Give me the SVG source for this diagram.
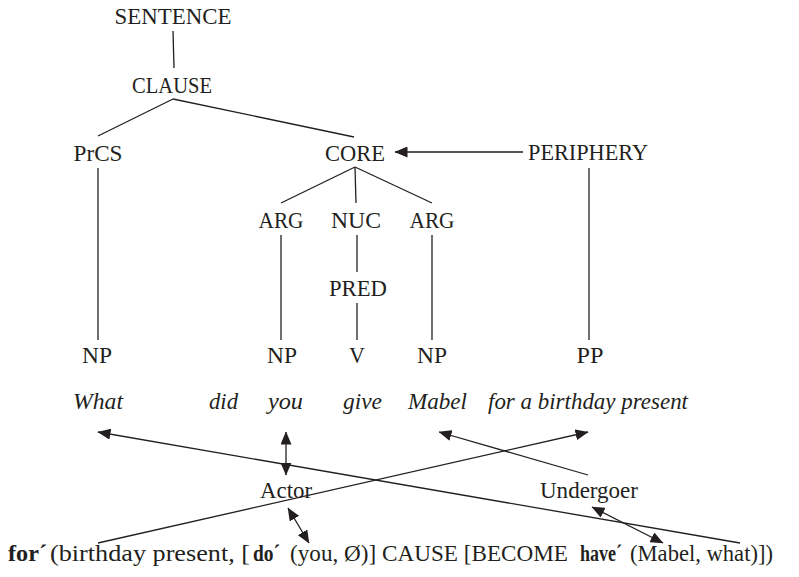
<svg xmlns="http://www.w3.org/2000/svg" width="799" height="577" viewBox="0 0 799 577">
<style>
text{font-family:"Liberation Serif","Times New Roman",serif;font-size:23.5px;fill:#231f20}
.c{text-anchor:middle}
.i{font-style:italic}
.b{font-weight:bold}
.ln line{stroke:#231f20;stroke-width:1.3;fill:none}
</style>
<defs>
<marker id="ah" markerUnits="userSpaceOnUse" viewBox="0 0 13 11" markerWidth="13" markerHeight="11" refX="12.5" refY="5.5" orient="auto-start-reverse">
<path d="M0,0 L13,5.5 L0,11 z" fill="#231f20"/>
</marker>
</defs>
<rect width="799" height="577" fill="#fff"/>
<g id="connectors" class="ln">
<line x1="173" y1="31" x2="174" y2="68"/>
<line x1="173" y1="99" x2="98" y2="136"/>
<line x1="173" y1="99" x2="354" y2="137"/>
<line x1="523" y1="152" x2="395" y2="152" marker-end="url(#ah)"/>
<line x1="98" y1="168" x2="98" y2="340"/>
<line x1="355" y1="167" x2="281" y2="203"/>
<line x1="355" y1="167" x2="356" y2="203"/>
<line x1="355" y1="167" x2="432" y2="203"/>
<line x1="281" y1="235" x2="281" y2="340"/>
<line x1="357" y1="235" x2="357" y2="272"/>
<line x1="357" y1="303" x2="357" y2="340"/>
<line x1="432" y1="235" x2="432" y2="340"/>
<line x1="589" y1="168" x2="589" y2="340"/>
<line x1="740" y1="543" x2="98" y2="432" marker-end="url(#ah)"/>
<line x1="98" y1="543" x2="588" y2="432" marker-end="url(#ah)"/>
<line x1="286" y1="432" x2="286" y2="475" marker-start="url(#ah)" marker-end="url(#ah)"/>
<line x1="288" y1="508" x2="309" y2="543" marker-start="url(#ah)" marker-end="url(#ah)"/>
<line x1="588" y1="475" x2="439" y2="432" marker-end="url(#ah)"/>
<line x1="592" y1="507" x2="663" y2="543" marker-start="url(#ah)" marker-end="url(#ah)"/>
</g>
<g id="sentence"><text class="c" x="173" y="24" textLength="117" lengthAdjust="spacingAndGlyphs">SENTENCE</text></g>
<g id="clause"><text class="c" x="172" y="93" textLength="80" lengthAdjust="spacingAndGlyphs">CLAUSE</text></g>
<g id="prcs"><text class="c" x="98" y="161" textLength="49" lengthAdjust="spacingAndGlyphs">PrCS</text></g>
<g id="core"><text class="c" x="355" y="161" textLength="60" lengthAdjust="spacingAndGlyphs">CORE</text></g>
<g id="periphery"><text class="c" x="588" y="160" textLength="120" lengthAdjust="spacingAndGlyphs">PERIPHERY</text></g>
<g id="arg1"><text class="c" x="281" y="228" textLength="45" lengthAdjust="spacingAndGlyphs">ARG</text></g>
<g id="nuc"><text class="c" x="356" y="228" textLength="50" lengthAdjust="spacingAndGlyphs">NUC</text></g>
<g id="arg2"><text class="c" x="432" y="228" textLength="45" lengthAdjust="spacingAndGlyphs">ARG</text></g>
<g id="pred"><text class="c" x="358" y="296" textLength="58" lengthAdjust="spacingAndGlyphs">PRED</text></g>
<g id="np1"><text class="c" x="97" y="363" textLength="30" lengthAdjust="spacingAndGlyphs">NP</text></g>
<g id="np2"><text class="c" x="282" y="363" textLength="30" lengthAdjust="spacingAndGlyphs">NP</text></g>
<g id="v"><text class="c" x="357" y="363" textLength="16" lengthAdjust="spacingAndGlyphs">V</text></g>
<g id="np3"><text class="c" x="432" y="363" textLength="30" lengthAdjust="spacingAndGlyphs">NP</text></g>
<g id="pp"><text class="c" x="590" y="363" textLength="27" lengthAdjust="spacingAndGlyphs">PP</text></g>
<g id="words">
<text class="i" x="73" y="409" textLength="50" lengthAdjust="spacingAndGlyphs">What</text>
<text class="i" x="209" y="409" textLength="29" lengthAdjust="spacingAndGlyphs">did</text>
<text class="i" x="268" y="409" textLength="35" lengthAdjust="spacingAndGlyphs">you</text>
<text class="i" x="343" y="409" textLength="39" lengthAdjust="spacingAndGlyphs">give</text>
<text class="i" x="408" y="409" textLength="59" lengthAdjust="spacingAndGlyphs">Mabel</text>
<text class="i" x="488" y="409" textLength="200" lengthAdjust="spacingAndGlyphs">for a birthday present</text>
</g>
<g id="actor"><text class="c" x="286" y="498" textLength="52" lengthAdjust="spacingAndGlyphs">Actor</text></g>
<g id="undergoer"><text class="c" x="589" y="498" textLength="98" lengthAdjust="spacingAndGlyphs">Undergoer</text></g>
<g id="logical-structure">
<text x="8" y="561" class="b" textLength="39" lengthAdjust="spacingAndGlyphs">for´</text>
<text x="50" y="561" textLength="200" lengthAdjust="spacingAndGlyphs">(birthday present, [</text>
<text x="253" y="561" class="b" textLength="27" lengthAdjust="spacingAndGlyphs">do´</text>
<text x="290" y="561" textLength="278" lengthAdjust="spacingAndGlyphs">(you, Ø)] CAUSE [BECOME</text>
<text x="580" y="561" class="b" textLength="42" lengthAdjust="spacingAndGlyphs">have´</text>
<text x="630" y="561" textLength="143" lengthAdjust="spacingAndGlyphs">(Mabel, what)])</text>
</g>
</svg>
